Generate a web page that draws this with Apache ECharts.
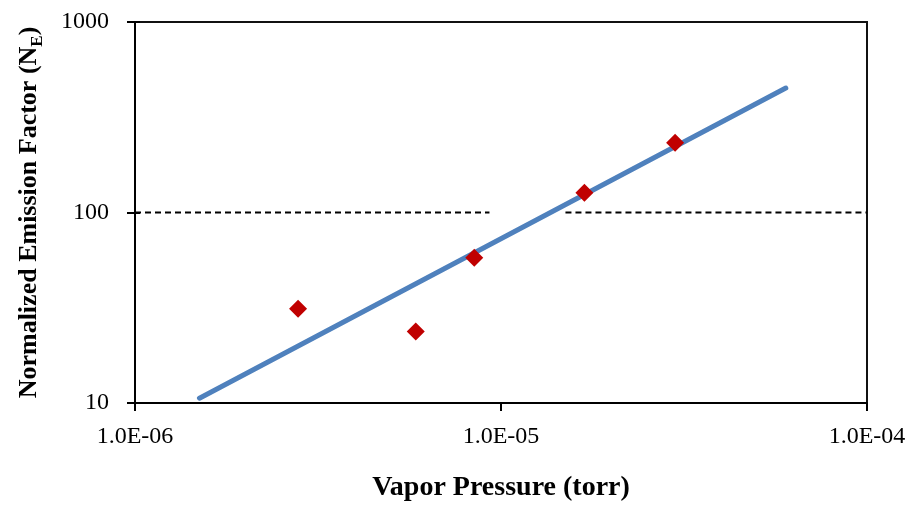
<!DOCTYPE html>
<html>
<head>
<meta charset="utf-8">
<script src="https://cdn.jsdelivr.net/npm/echarts@6/dist/echarts.min.js"></script>
<style>html,body{margin:0;padding:0;background:#fff;}#c{width:912px;height:514px;}</style>
</head>
<body>
<div id="c"></div>
<script>
// Measured data points (vapor pressure [torr], normalized emission factor)
var pointX = [2.79e-6, 5.85e-6, 8.45e-6, 1.69e-5, 2.99e-5];
var pointY = [31.2, 23.7, 57.8, 127, 232];
// Fitted regression line end points
var fitX = [1.5e-6, 6.0e-5];
var fitY = [10.6, 450];
// Dashed reference line at 100 (two segments with a gap)
var refLeftX = [1e-6, 9.3e-6];
var refRightX = [1.5e-5, 1e-4];
var refY = 100;
// Axis ranges / tick labels
var xRange = [1e-6, 1e-4];
var yRange = [10, 1000];

var chart = echarts.init(document.getElementById('c'));
var FONT = '"Liberation Serif", "Times New Roman", serif';
function pairs(xs, ys) { return xs.map(function (x, i) { return [x, ys[i]]; }); }
function xFmt(v) {
  var e = Math.round(Math.log10(v));
  var m = v / Math.pow(10, e);
  var s = e < 0 ? '-' : '+';
  var a = Math.abs(e);
  return m.toFixed(1) + 'E' + s + (a < 10 ? '0' + a : a);
}
var option = {
  animation: false,
  backgroundColor: '#fff',
  grid: { left: 135, right: 45, top: 22, bottom: 111, show: true, borderColor: '#111', borderWidth: 2, backgroundColor: 'transparent' },
  xAxis: {
    type: 'log', logBase: 10, min: xRange[0], max: xRange[1],
    name: 'Vapor Pressure (torr)', nameLocation: 'middle', nameGap: 71,
    nameTextStyle: { fontFamily: FONT, fontWeight: 'bold', fontSize: 28, color: '#000' },
    axisLine: { lineStyle: { color: '#000', width: 2 } },
    axisTick: { show: true, length: 8, lineStyle: { color: '#000', width: 2 } },
    minorTick: { show: false },
    splitLine: { show: false },
    axisLabel: { fontFamily: FONT, fontSize: 24, color: '#000', margin: 22, formatter: xFmt, showMinLabel: true, showMaxLabel: true }
  },
  yAxis: [{
    type: 'log', logBase: 10, min: yRange[0], max: yRange[1],
    name: '{b|Normalized Emission Factor (N}{s|E}{b|)}', nameLocation: 'middle', nameGap: 93,
    nameTextStyle: {
      fontFamily: FONT, fontWeight: 'bold', fontSize: 26, color: '#000',
      rich: {
        b: { fontFamily: FONT, fontWeight: 'bold', fontSize: 26, color: '#000', lineHeight: 30, verticalAlign: 'bottom' },
        s: { fontFamily: FONT, fontWeight: 'bold', fontSize: 17, color: '#000', lineHeight: 30, verticalAlign: 'bottom', padding: [0, 0, -4, 0] }
      }
    },
    axisLine: { lineStyle: { color: '#000', width: 2 } },
    axisTick: { show: true, length: 8, lineStyle: { color: '#000', width: 2 } },
    minorTick: { show: false },
    splitLine: { show: false },
    axisLabel: { fontFamily: FONT, fontSize: 24, color: '#000', margin: 26, formatter: function (v) { return String(Math.round(v)); } }
  }, {
    type: 'log', logBase: 10, min: yRange[0], max: yRange[1], position: 'left',
    axisLine: { show: false },
    axisTick: { show: true, inside: true, length: 5, lineStyle: { color: '#000', width: 2 } },
    axisLabel: { show: false }, splitLine: { show: false }
  }],
  series: [
    { type: 'line', data: pairs(refLeftX, [refY, refY]), symbol: 'none', silent: true,
      lineStyle: { color: '#000', width: 2, type: [6, 4] }, z: 1 },
    { type: 'line', data: pairs(refRightX, [refY, refY]), symbol: 'none', silent: true,
      lineStyle: { color: '#000', width: 2, type: [6, 4] }, z: 1 },
    { type: 'line', data: pairs(fitX, fitY), symbol: 'none',
      lineStyle: { color: '#4F81BD', width: 5, cap: 'round' }, z: 2 },
    { type: 'scatter', data: pairs(pointX, pointY), symbol: 'diamond', symbolSize: 18,
      itemStyle: { color: '#C00000', opacity: 1 }, z: 3 }
  ]
};
chart.setOption(option);
</script>
</body>
</html>
